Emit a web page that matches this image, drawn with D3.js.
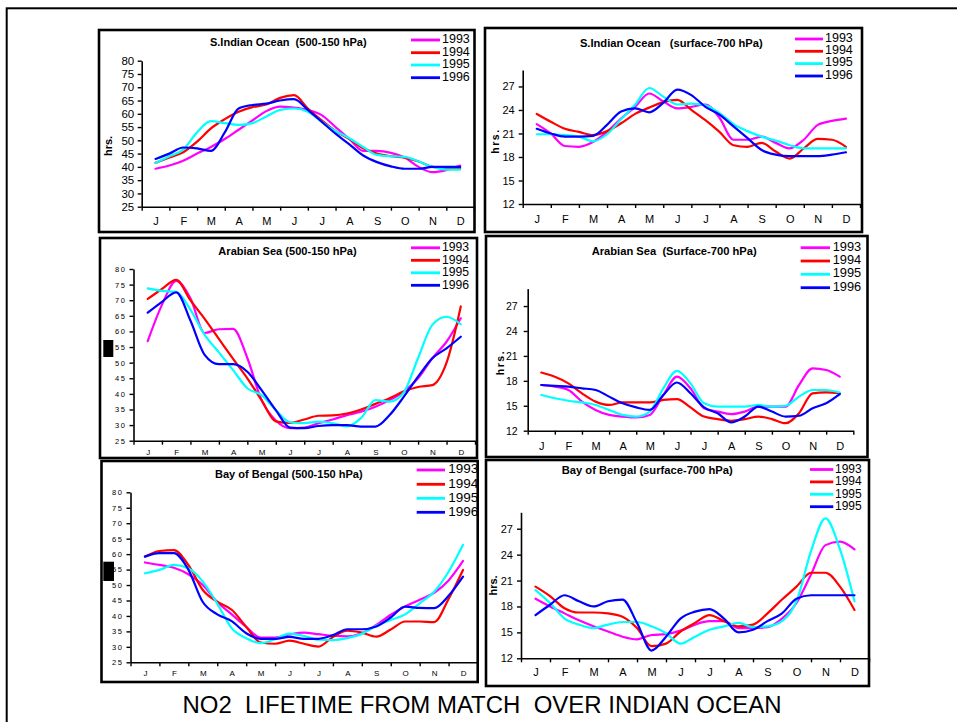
<!DOCTYPE html>
<html><head><meta charset="utf-8">
<script src="https://cdn.jsdelivr.net/npm/d3@7/dist/d3.min.js"></script>
<style>
html,body{margin:0;padding:0;background:#fff;}
svg{display:block;}
text{font-family:"Liberation Sans",Arial,sans-serif;fill:#000;}
</style></head><body>
<svg id="chart" width="957" height="722"></svg>
<script>
// ---------- data ----------
const monthLabels = ["J","F","M","A","M","J","J","A","S","O","N","D"];
const monthPos = [0,0.5,1,1.5,2,2.5,3,3.5,4,4.5,5,5.5,6,6.5,7,7.5,8,8.5,9,9.5,10,10.5,11];
const yearLabels = ["1993","1994","1995","1996"];
const bobSurfLegend = ["1993","1994","1995","1995"];
const upperTicks = [25,30,35,40,45,50,55,60,65,70,75,80];
const surfTicks = [12,15,18,21,24,27];

// S.Indian Ocean (500-150 hPa)
const sioUpper1993 = [39.3,40.5,42.3,45,47.5,50.5,54,57.5,61,62.7,62.3,61.4,59.5,55,50.5,46,46,45.3,43.5,40,38,38.8,40.5];
const sioUpper1994 = [41.5,43.5,45.5,49.5,54.5,58,60.8,62.5,63.5,66,67,62,57.5,53.5,50.5,47,45,44,43.5,42,40,39.5,39.5];
const sioUpper1995 = [41.5,44,46.5,53,57.2,56.5,55.8,56.5,59,61.5,62,60.8,57,53.5,50.8,47.5,44.5,44,43.8,42,40,39,39];
const sioUpper1996 = [43,45,47.3,47,46,53,62,63.3,63.8,65,65.5,61.5,57,52.5,48.5,44.3,41.8,40.2,39.3,39.3,40,40,40];
// S.Indian Ocean (surface-700 hPa)
const sioSurf1993 = [22.2,21,19.4,19.3,19.9,21.2,22.9,24.4,26.1,25.1,24.2,24.4,24.7,23,20.2,20.2,20.6,19.8,19.1,20.2,22.1,22.6,22.9];
const sioSurf1994 = [23.5,22.5,21.6,21.2,20.8,21.3,22.3,23.5,24.3,25,25.3,24,22.7,21.2,19.5,19.3,19.8,18.7,17.8,19.1,20.3,20.2,19.3];
const sioSurf1995 = [20.9,20.9,20.8,20.6,20,20.9,22.8,24.7,26.8,25.7,24.7,24.8,24.6,23.6,22.2,21.3,20.6,20.1,19.5,19.1,19.1,19.1,19.1];
const sioSurf1996 = [21.6,21,20.6,20.6,20.7,22.1,23.8,24.2,23.7,24.9,26.6,25.9,24.4,23.4,21.9,20.4,18.9,18.3,18.1,18.1,18.1,18.3,18.6];
// Arabian Sea (500-150 hPa)
const arabUpper1993 = [56.9,68.5,76.2,70.6,59.5,60.7,60.8,51.5,38,31.5,29,29.2,30.6,31.8,33.2,34.3,35.9,38,40.7,45,51.4,56.7,64.2];
const arabUpper1994 = [70.4,73.6,76.5,70,64,57.6,51.2,45,38,31.2,30.7,31.8,33,33.1,33.7,35,36.8,38.6,40.8,42.2,42.8,50,68];
const arabUpper1995 = [73.8,73,72.7,67,58.9,53.3,47.6,41.8,39.6,34.8,30.9,30.6,31.1,30.6,29.6,32.3,38,37.5,40.5,51.5,62.1,64.7,62.3];
const arabUpper1996 = [66,69.5,72.5,63.5,52.5,49.5,49.5,47.1,41.2,34.8,29.2,29,29.7,30,30,29.5,29.5,33.2,39.1,45.5,51.4,54.6,58.3];
// Arabian Sea (Surface-700 hPa)
const arabSurf1993 = [17.5,17.3,16.9,15.5,14.5,13.9,13.7,13.6,13.9,16.3,18.5,17.1,14.7,14.3,14,14.3,14.9,14.9,14.9,17.5,19.5,19.3,18.5];
const arabSurf1994 = [19,18.5,17.7,16.5,15.5,15.1,15.4,15.4,15.4,15.7,15.8,14.8,13.7,13.4,13.2,13.4,13.7,13.4,12.9,14.1,16.5,16.6,16.5];
const arabSurf1995 = [16.3,15.9,15.6,15.4,15.1,14.5,13.9,13.7,14.3,17.1,19.2,17.7,15.3,14.9,14.9,14.9,15.1,14.9,15,16.1,16.9,16.9,16.6];
const arabSurf1996 = [17.5,17.4,17.3,17.1,16.9,16.1,15.3,14.8,14.5,16.3,17.8,16.5,14.8,14.1,13,13.7,14.9,14.3,13.7,13.8,14.7,15.3,16.4];
// Bay of Bengal (500-150 hPa)
const bobUpper1993 = [57.3,56.5,55.6,53.5,50,44.5,40.5,36.5,33,33,34,34.6,34.1,33.6,33.4,34.4,37.1,40.4,43.1,45.2,47.5,51.5,57.8];
const bobUpper1994 = [59.2,61,61.3,56.5,48.4,44.6,42,36.5,31.4,31,32,31,30.1,33.2,35.2,34.6,33.3,35.6,38.2,38.2,38,45.5,54.9];
const bobUpper1995 = [53.8,54.9,56.5,55.4,51.1,44,36,32.8,31.2,32.5,34.3,33.5,32.3,32.2,32.8,34.2,36.8,38.7,40.5,44.1,47.8,54.3,63];
const bobUpper1996 = [59.2,60.3,60.3,55,44.5,40.5,38.3,34.4,32.6,32.6,33.2,32.6,32.6,33.8,35.7,35.7,36.6,39.5,43,42.6,42.5,46.5,52.7];
// Bay of Bengal (surface-700 hPa)
const bobSurf1993 = [18.9,18,17.2,16.4,15.7,15.1,14.5,14.2,14.7,14.8,15.2,15.9,16.3,16.3,15.5,15.5,15.6,16.6,18.4,21.7,25.1,25.5,24.6];
const bobSurf1994 = [20.3,19.2,17.8,17.3,17.3,17.2,16.8,15.5,13.4,13.7,15.1,16.1,17,16.3,15.7,15.9,17.2,18.8,20.3,21.9,21.9,20.3,17.6];
const bobSurf1995 = [19.9,18.4,16.6,15.9,15.5,15.9,16.2,16.2,15.7,14.9,13.7,14.5,15.3,15.7,16.1,15.6,15.7,16.3,18.6,24.4,28.2,24.6,18.6];
const bobSurf1996 = [17,18.2,19.3,18.6,18,18.6,18.8,16.1,12.9,14.5,16.6,17.4,17.7,16.6,15,15.3,16.3,17.2,18.9,19.3,19.3,19.3,19.3];

const mainTitle = "NO2  LIFETIME FROM MATCH  OVER INDIAN OCEAN";

// ---------- styles / layout ----------
const seriesColors = ["#ff00ff","#ff0000","#00ffff","#0000ff"];

const panels = [
  {title:"S.Indian Ocean  (500-150 hPa)", tx:288.3, ty:45.5, tw:156.7, tfs:11,
   series:[sioUpper1993,sioUpper1994,sioUpper1995,sioUpper1996], legend:yearLabels,
   box:[99,30,474.5,232], xr:[141.7,474], yr:[206.7,60.7], dom:[25,80], ticks:upperTicks,
   serif:false, yfs:11.5, ypad:3.5, mfs:11, mBase:225,
   hrs:{x:108.3,y:146,ls:0,fs:11},
   leg:{x0:411,x1:440,tx:442,ys:[40,52.7,65,77.7],dy:3.4,fs:12.5}},
  {title:"S.Indian Ocean   (surface-700 hPa)", tx:671.3, ty:46.5, tw:182.7, tfs:11,
   series:[sioSurf1993,sioSurf1994,sioSurf1995,sioSurf1996], legend:yearLabels,
   box:[485,28,862,232], xr:[522.7,860], yr:[204,70], dom:[12,29.1], ticks:surfTicks,
   serif:false, yfs:11, ypad:4, mfs:11, mBase:222.5,
   hrs:{x:495,y:141,ls:1.5,fs:10.5},
   leg:{x0:795,x1:823,tx:825,ys:[39,51.3,63.6,76],dy:2.8,fs:12.5}},
  {title:"Arabian Sea (500-150 hPa)", tx:287.5, ty:254.5, tw:138.3, tfs:11.5,
   series:[arabUpper1993,arabUpper1994,arabUpper1995,arabUpper1996], legend:yearLabels,
   box:[100,238,477,458], xr:[133.5,475], yr:[440.7,269], dom:[25,80], ticks:upperTicks,
   serif:true, yfs:7.5, ypad:3, mfs:8, mBase:455,
   hrs:null, blot:[103.3,340,10,17],
   leg:{x0:411,x1:440,tx:442,ys:[247.8,260.3,272.8,285.3],dy:3.6,fs:12.2}},
  {title:"Arabian Sea  (Surface-700 hPa)", tx:674.2, ty:255, tw:165, tfs:11,
   series:[arabSurf1993,arabSurf1994,arabSurf1995,arabSurf1996], legend:yearLabels,
   box:[486,236,867.5,457], xr:[527.7,853.3], yr:[430.7,288.6], dom:[12,29.1], ticks:surfTicks,
   serif:false, yfs:10.5, ypad:6, mfs:11, mBase:450,
   hrs:{x:500.7,y:362.5,ls:1.5,fs:10.5},
   leg:{x0:800.7,x1:830,tx:832.7,ys:[247.7,261,274.3,287.7],dy:2.8,fs:12.8}},
  {title:"Bay of Bengal (500-150 hPa)", tx:288.8, ty:478, tw:147.7, tfs:11,
   series:[bobUpper1993,bobUpper1994,bobUpper1995,bobUpper1996], legend:yearLabels,
   box:[101.5,461,477.7,682], xr:[130.5,477.5], yr:[662.3,492.3], dom:[25,80], ticks:upperTicks,
   serif:true, yfs:7.5, ypad:3, mfs:8, mBase:676.5,
   hrs:null, blot:[103.3,561.7,10.7,19.3],
   leg:{x0:416.7,x1:445,tx:448.3,ys:[470,484.3,498.3,512.3],dy:3.3,fs:13.5}},
  {title:"Bay of Bengal (surface-700 hPa)", tx:647.2, ty:474, tw:171, tfs:11,
   series:[bobSurf1993,bobSurf1994,bobSurf1995,bobSurf1996], legend:bobSurfLegend,
   box:[486,460,869,686], xr:[521,869], yr:[658.3,512.3], dom:[12,28.9], ticks:surfTicks,
   serif:false, yfs:11, ypad:4, mfs:11, mBase:676.5,
   hrs:{x:493.3,y:585.5,ls:0,fs:11},
   leg:{x0:810,x1:833.3,tx:835,ys:[469.5,481.9,494.3,506.7],dy:3.5,fs:12}}
];

// ---------- drawing ----------
const svg = d3.select("#chart");
svg.append("rect").attr("width",957).attr("height",722).attr("fill","#fff");
// outer frame
svg.append("rect").attr("x",6.7).attr("y",8.3).attr("width",1000).attr("height",1000)
  .attr("fill","none").attr("stroke","#000").attr("stroke-width",2);

const serifFont = '"Liberation Serif","Times New Roman",serif';

panels.forEach(p => {
  const g = svg.append("g");
  g.append("rect").attr("x",p.box[0]).attr("y",p.box[1])
    .attr("width",p.box[2]-p.box[0]).attr("height",p.box[3]-p.box[1])
    .attr("fill","#fff").attr("stroke","#000").attr("stroke-width",2.6);

  const x = d3.scaleLinear().domain([-0.5,11.5]).range(p.xr);
  const y = d3.scaleLinear().domain(p.dom).range(p.yr);

  // title
  g.append("text").attr("x",p.tx).attr("y",p.ty).attr("text-anchor","middle")
    .attr("font-weight","bold").attr("font-size",p.tfs)
    .attr("textLength",p.tw).attr("lengthAdjust","spacingAndGlyphs")
    .style("white-space","pre").text(p.title);

  // y axis
  const yAxis = d3.axisLeft(y).tickValues(p.ticks).tickSize(4).tickSizeOuter(0).tickPadding(p.ypad)
    .tickFormat(d => String(d));
  const ya = g.append("g").attr("transform",`translate(${p.xr[0]},0)`).call(yAxis);
  ya.select(".domain").attr("stroke","#000").attr("stroke-width",1.6);
  ya.selectAll(".tick line").attr("stroke","#000").attr("stroke-width",1.4);
  ya.selectAll(".tick text").attr("font-size",p.yfs).attr("fill","#000")
    .attr("font-family", p.serif ? serifFont : null)
    .attr("letter-spacing", p.serif ? 1.6 : null);

  // x axis: boundary ticks
  const xAxis = d3.axisBottom(x).tickValues(d3.range(-0.5,11.6,1)).tickSize(4).tickSizeOuter(0).tickFormat("");
  const xa = g.append("g").attr("transform",`translate(0,${p.yr[0]})`).call(xAxis);
  xa.select(".domain").attr("stroke","#000").attr("stroke-width",1.6);
  xa.selectAll(".tick line").attr("stroke","#000").attr("stroke-width",1.4);

  // month labels
  const pad = p.mBase - p.yr[0] - 0.71*p.mfs;
  const mAxis = d3.axisBottom(x).tickValues(d3.range(12)).tickSize(0).tickPadding(pad)
    .tickFormat(i => monthLabels[i]);
  const ma = g.append("g").attr("transform",`translate(0,${p.yr[0]})`).call(mAxis);
  ma.select(".domain").remove();
  ma.selectAll(".tick text").attr("font-size",p.mfs).attr("fill","#000")
    .attr("font-family", p.serif ? serifFont : null);

  // hrs label
  if (p.hrs) {
    g.append("text").attr("transform",`translate(${p.hrs.x},${p.hrs.y}) rotate(-90)`)
      .attr("text-anchor","middle").attr("dy","0.35em").attr("font-weight","bold")
      .attr("font-size",p.hrs.fs).attr("letter-spacing",p.hrs.ls).text("hrs.");
  }
  if (p.blot) {
    g.append("rect").attr("x",p.blot[0]).attr("y",p.blot[1]).attr("width",p.blot[2]).attr("height",p.blot[3]).attr("fill","#000");
  }

  // series lines
  const line = d3.line().x((d,i) => x(monthPos[i])).y(d => y(d)).curve(d3.curveMonotoneX);
  p.series.forEach((s,k) => {
    g.append("path").datum(s).attr("d",line).attr("fill","none")
      .attr("stroke",seriesColors[k]).attr("stroke-width",2.2)
      .attr("stroke-linejoin","round").attr("stroke-linecap","round");
  });

  // legend
  p.legend.forEach((lab,k) => {
    g.append("line").attr("x1",p.leg.x0).attr("x2",p.leg.x1)
      .attr("y1",p.leg.ys[k]).attr("y2",p.leg.ys[k])
      .attr("stroke",seriesColors[k]).attr("stroke-width",2.8);
    g.append("text").attr("x",p.leg.tx).attr("y",p.leg.ys[k]+p.leg.dy)
      .attr("font-size",p.leg.fs).text(lab);
  });
});

// main title
svg.append("text").attr("x",482).attr("y",712.7).attr("text-anchor","middle")
  .attr("font-size",23).attr("textLength",599).attr("lengthAdjust","spacingAndGlyphs")
  .style("white-space","pre").text(mainTitle);
</script>
</body></html>
